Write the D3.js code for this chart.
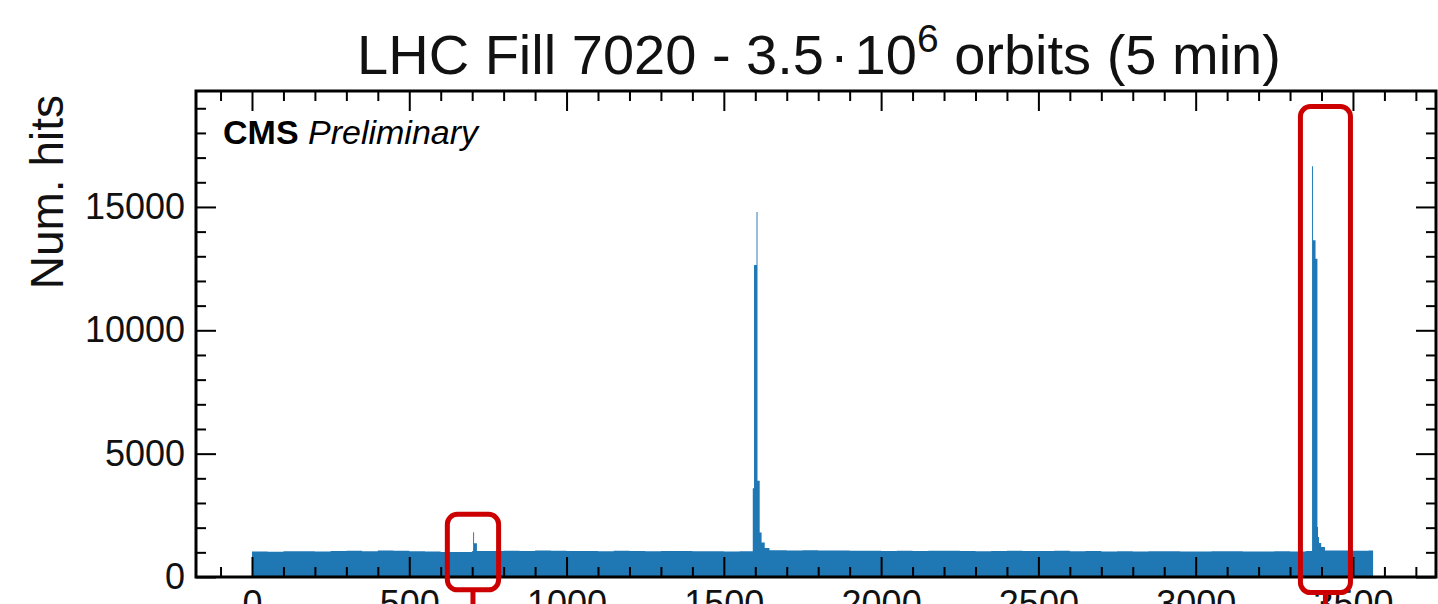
<!DOCTYPE html>
<html lang="en">

<head>
    <meta charset="UTF-8">
    <script src="https://cdn.jsdelivr.net/npm/d3@7"></script>
    <title>LHC Fill 7020 hits per bunch crossing</title>
    <style>
        body {
            margin: 0;
            background: white;
            font-family: "Liberation Sans", Arial, sans-serif;
        }

        svg {
            display: block;
        }
    </style>
</head>

<body>
    <script>

        // size of the page
        const width = 1438
        const height = 604
        const nBins = 3564

        // baseline level, one value per block of 50 bunch crossings
        const blockSize = 50
        const baseLevels = [
            1030, 1025,
            1040, 1045, 1035, 1050, 1060, 1040,
            1070, 1065,
            1040, 1035,
            1015, 1010,
            1050, 1055, 1060, 1050,
            1070, 1065,
            1050, 1055, 1045, 1060, 1050, 1040, 1055, 1050, 1045, 1040,
            1035, 1040,
            1080, 1085, 1075, 1080, 1070, 1075,
            1060, 1065, 1055, 1060, 1050, 1065, 1060, 1055, 1045, 1050, 1060, 1055, 1050, 1060, 1045, 1050,
            1030, 1040, 1035, 1045, 1040, 1030, 1035, 1045, 1040, 1030, 1035, 1040, 1030,
            1050,
            1070, 1075, 1065, 1070
        ]

        // bins above the baseline: [first bin, last bin, hits]
        const peakBins = [
            [703, 705, 1810], [706, 714, 1370],
            [1592, 1595, 3600], [1596, 1603, 12650], [1604, 1606, 14800], [1607, 1613, 3900],
            [1614, 1619, 1800], [1620, 1629, 1400], [1630, 1644, 1180],
            [3370, 3372, 16650], [3373, 3380, 13650], [3381, 3386, 12900], [3387, 3388, 2030],
            [3389, 3391, 1620], [3392, 3398, 1380], [3399, 3410, 1220]
        ]

        // axis ranges and ticks
        const xLimits = [-178, 3764]
        const yLimits = [0, 19700]
        const xMajor = [0, 500, 1000, 1500, 2000, 2500, 3000, 3500]
        const yMajor = [0, 5000, 10000, 15000]
        const xMinor = d3.range(-100, 3800, 100).filter(v => v % 500 != 0)
        const yMinor = d3.range(1000, 20000, 1000).filter(v => v % 5000 != 0)

        // highlighted regions (bins, hits)
        const boxes = [
            { x0: 621, x1: 784, y0: -520, y1: 2540 },
            { x0: 3333, x1: 3492, y0: -630, y1: 19070 }
        ]

        const margin = { left: 196, right: 2, top: 91, bottom: 27 }

        const svg = d3.select("body").append("svg")
            .attr("width", width)
            .attr("height", height)
            .style("font-family", '"Liberation Sans", Arial, sans-serif')

        const x = d3.scaleLinear().domain(xLimits).range([margin.left, width - margin.right])
        const y = d3.scaleLinear().domain(yLimits).range([height - margin.bottom, margin.top])

        // build the histogram
        let counts = d3.range(nBins).map(i => baseLevels[Math.floor(i / blockSize)])
        peakBins.forEach(p => {
            for (let i = p[0]; i <= p[1]; i++) counts[i] = p[2]
        })
        const steps = counts.map((c, i) => [i, c])
        steps.push([nBins, counts[nBins - 1]])

        const area = d3.area()
            .x(d => x(d[0]))
            .y0(y(0))
            .y1(d => y(d[1]))
            .curve(d3.curveStepAfter)

        svg.append("path")
            .datum(steps)
            .attr("d", area)
            .attr("fill", "#1f77b4")

        // ticks on all four sides, pointing in
        function styleAxis(g) {
            g.select(".domain").remove()
            g.selectAll("line").attr("stroke", "black").attr("stroke-width", 2)
            g.selectAll("text").attr("font-size", 36).attr("fill", "#111")
                .attr("font-family", '"Liberation Sans", Arial, sans-serif')
        }

        const fmt = d3.format("d")

        svg.append("g").attr("transform", `translate(0,${y(0)})`)
            .call(d3.axisBottom(x).tickValues(xMajor).tickSize(-20).tickPadding(13).tickFormat(fmt))
            .call(styleAxis)
        svg.append("g").attr("transform", `translate(0,${y(0)})`)
            .call(d3.axisBottom(x).tickValues(xMinor).tickSize(-10).tickFormat(""))
            .call(styleAxis)
        svg.append("g").attr("transform", `translate(0,${margin.top})`)
            .call(d3.axisTop(x).tickValues(xMajor).tickSize(-20).tickFormat(""))
            .call(styleAxis)
        svg.append("g").attr("transform", `translate(0,${margin.top})`)
            .call(d3.axisTop(x).tickValues(xMinor).tickSize(-10).tickFormat(""))
            .call(styleAxis)

        svg.append("g").attr("transform", `translate(${margin.left},0)`)
            .call(d3.axisLeft(y).tickValues(yMajor).tickSize(-20).tickPadding(11).tickFormat(fmt))
            .call(styleAxis)
        svg.append("g").attr("transform", `translate(${margin.left},0)`)
            .call(d3.axisLeft(y).tickValues(yMinor).tickSize(-10).tickFormat(""))
            .call(styleAxis)
        svg.append("g").attr("transform", `translate(${width - margin.right},0)`)
            .call(d3.axisRight(y).tickValues(yMajor).tickSize(-20).tickFormat(""))
            .call(styleAxis)
        svg.append("g").attr("transform", `translate(${width - margin.right},0)`)
            .call(d3.axisRight(y).tickValues(yMinor).tickSize(-10).tickFormat(""))
            .call(styleAxis)

        // frame
        svg.append("rect")
            .attr("x", x(xLimits[0]))
            .attr("y", y(yLimits[1]))
            .attr("width", x(xLimits[1]) - x(xLimits[0]))
            .attr("height", y(yLimits[0]) - y(yLimits[1]))
            .attr("fill", "none")
            .attr("stroke", "black")
            .attr("stroke-width", 3)

        // labels
        svg.append("text")
            .attr("transform", "translate(63,95) rotate(-90)")
            .attr("text-anchor", "end")
            .attr("font-size", 46)
            .attr("fill", "#111")
            .text("Num. hits")

        const title = svg.append("text")
            .attr("x", 819)
            .attr("y", 74)
            .attr("text-anchor", "middle")
            .attr("font-size", 56)
            .attr("fill", "#111")
        title.append("tspan").text("LHC Fill 7020 - 3.5")
        title.append("tspan").attr("dx", 6).text("·")
        title.append("tspan").attr("dx", 6).text("10")
        title.append("tspan").attr("dy", -22).attr("font-size", 39).text("6")
        title.append("tspan").attr("dy", 22).text(" orbits (5 min)")

        const cms = svg.append("text")
            .attr("x", 223)
            .attr("y", 144)
            .attr("font-size", 34)
            .attr("fill", "black")
        cms.append("tspan").attr("font-weight", "bold").text("CMS")
        cms.append("tspan").attr("font-style", "italic").text(" Preliminary")

        // highlighted regions
        boxes.forEach(b => {
            svg.append("rect")
                .attr("x", x(b.x0))
                .attr("y", y(b.y1))
                .attr("width", x(b.x1) - x(b.x0))
                .attr("height", y(b.y0) - y(b.y1))
                .attr("rx", 10)
                .attr("fill", "none")
                .attr("stroke", "#cc0000")
                .attr("stroke-width", 5)
            svg.append("line")
                .attr("x1", x((b.x0 + b.x1) / 2))
                .attr("x2", x((b.x0 + b.x1) / 2))
                .attr("y1", y(b.y0))
                .attr("y2", height)
                .attr("stroke", "#cc0000")
                .attr("stroke-width", 5)
        })
    </script>
</body>

</html>
